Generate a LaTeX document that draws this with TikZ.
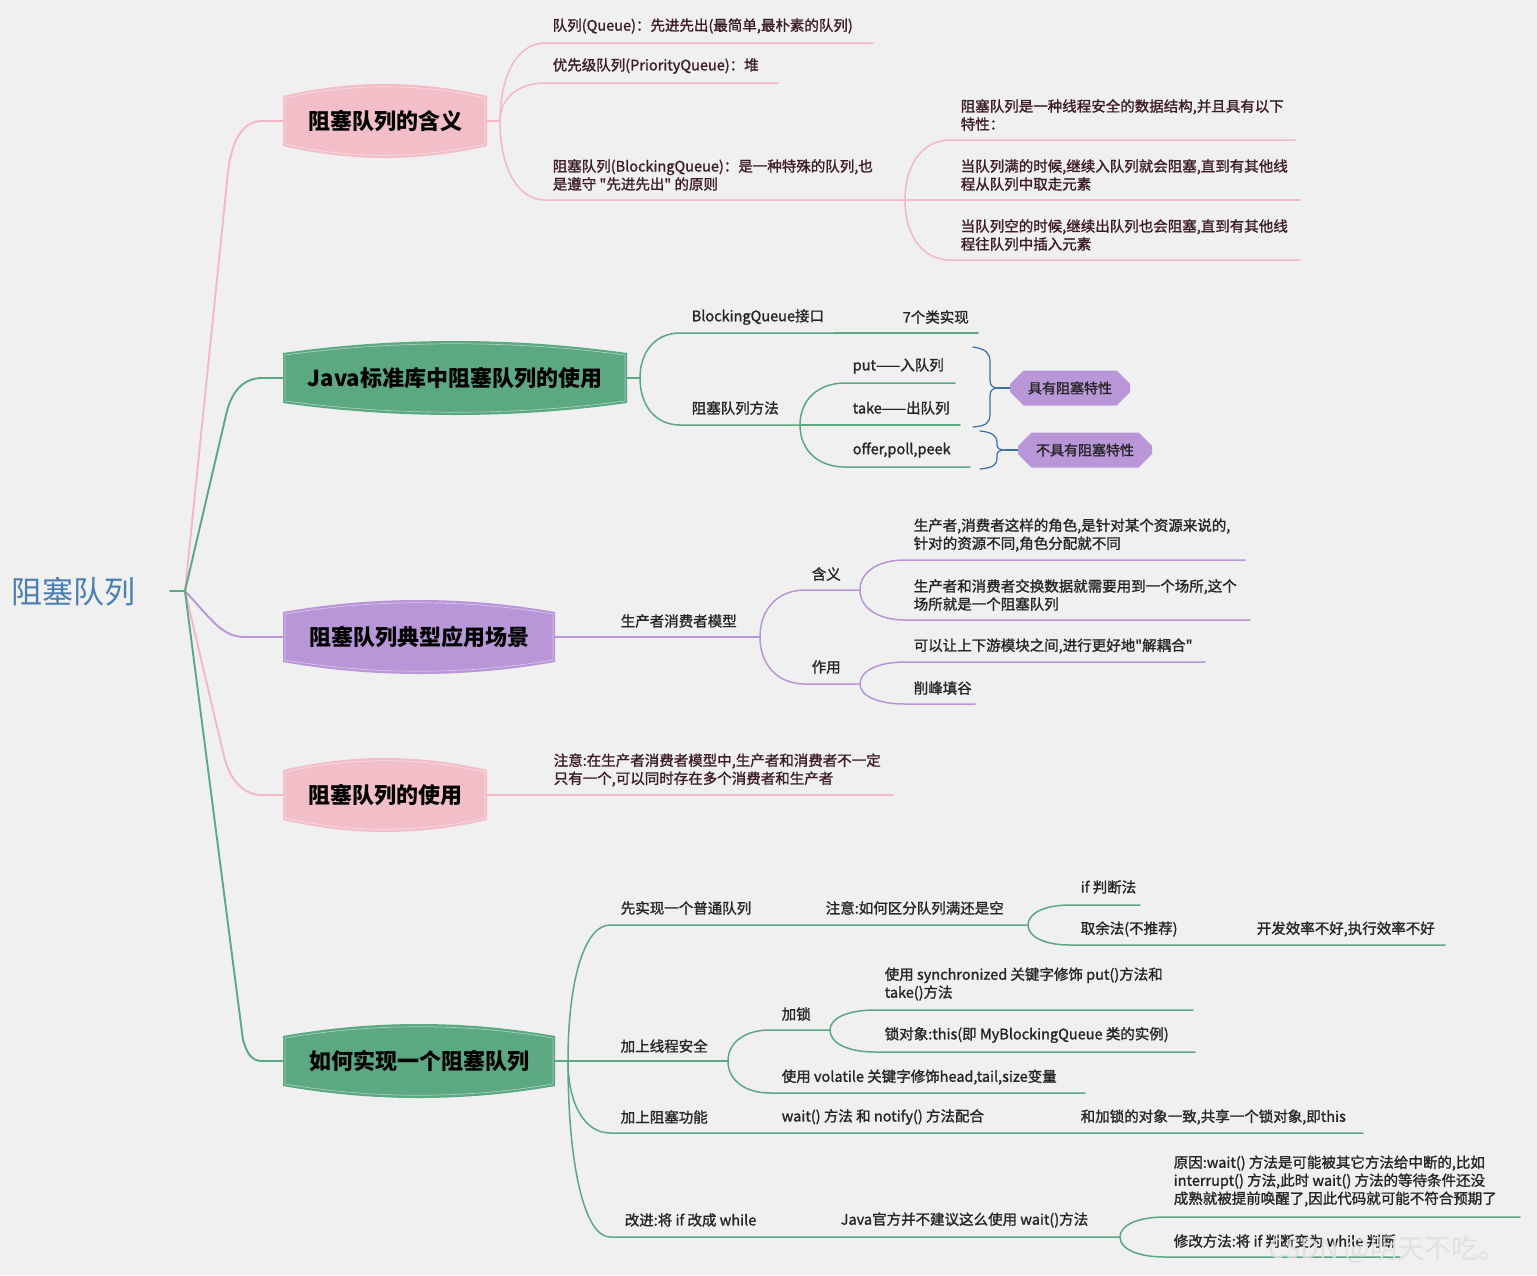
\documentclass[tikz,border=0pt]{standalone}
\usepackage{fontspec}
\newfontfamily\mainf{Noto Sans CJK SC}
\newfontfamily\txtf{Noto Sans CJK SC}[FakeBold=1.4]
\setmainfont{Noto Sans CJK SC}
\usetikzlibrary{calc,shapes.misc}
\definecolor{bg}{HTML}{F0F0F0}
\definecolor{pk}{HTML}{F2B9C5}
\definecolor{pkf}{HTML}{F2BEC8}
\definecolor{gr}{HTML}{5BA883}
\definecolor{pu}{HTML}{B896D8}
\definecolor{rootc}{HTML}{4A7DB0}
\definecolor{tcp}{HTML}{3E1E26}
\definecolor{tcg}{HTML}{262626}
\definecolor{brc}{HTML}{3C6FA8}
\definecolor{wmc}{HTML}{DEDEDE}
\tikzset{
 mm/.style={to path={.. controls ($(\tikztostart)!0.6!(\tikztostart|-\tikztotarget)$) and ($(\tikztostart|-\tikztotarget)!0.4!(\tikztotarget)$) .. (\tikztotarget)}},
 lk/.style={line width=1.5pt, line cap=round, line join=round},
 mainl/.style={line width=1.9pt, line cap=round, line join=round},
 tx/.style={anchor=west, inner sep=0pt, align=left, font=\txtf\fontsize{14.5}{18}\selectfont},
 boxtext/.style={font=\mainf\fontsize{22}{24}\selectfont\bfseries, text=black, inner sep=0pt},
 call/.style={chamfered rectangle, chamfered rectangle xsep=7pt, chamfered rectangle ysep=7pt, fill=pu, text=black!85, font=\txtf\fontsize{14}{16}\selectfont, minimum height=35pt, inner sep=0pt},
}
\newcommand\mybox[6]{%
 \fill[#5] ({#2-#4},{#3-25}) .. controls ({#2-#4/3},{#3-41}) and ({#2+#4/3},{#3-41}) .. ({#2+#4},{#3-25}) -- ({#2+#4},{#3+25}) .. controls ({#2+#4/3},{#3+41}) and ({#2-#4/3},{#3+41}) .. ({#2-#4},{#3+25}) -- cycle;
 \draw[white, opacity=0.45, line width=0.7pt] ({#2-#4+2},{#3-23}) .. controls ({#2-#4/3},{#3-38}) and ({#2+#4/3},{#3-38}) .. ({#2+#4-2},{#3-23}) -- ({#2+#4-2},{#3+23}) .. controls ({#2+#4/3},{#3+38}) and ({#2-#4/3},{#3+38}) .. ({#2-#4+2},{#3+23}) -- cycle;
 \node[boxtext, minimum width={2*#4pt}, minimum height=50pt] (#1) at (#2,#3) {#6};}
\newcommand\leaf[7]{%
 \coordinate (#1s) at (#4,#6); \coordinate (#1e) at (#5,#6);
 \node[tx] (#1) at (#2,#3) {#7};}
\begin{document}
\begin{tikzpicture}[x=1pt,y=-1pt]
\fill[bg] (0,0) rectangle (1537,1275);
\useasboundingbox (0,0) rectangle (1537,1275);

% root
\node[font=\mainf\fontsize{31}{33}\selectfont, text=rootc, anchor=west, inner sep=0pt] (root) at (11,592) {阻塞队列};
\coordinate (r0) at (170,591);
\coordinate (T) at (185,591);

\path (283,121) coordinate (b1w) (283,378) coordinate (b2w) (283,637) coordinate (b3w) (283,795) coordinate (b4w) (283,1061) coordinate (b5w);
\draw[pk,mainl] (T) -- (228,172) .. controls (232,138) and (244,121) .. (262,121) -- (b1w);
\draw[pk,mainl] (T) -- (223,752) .. controls (229,780) and (243,795) .. (262,795) -- (b4w);
\draw[pu,mainl] (T) .. controls (212,620) and (222,637) .. (245,637) -- (b3w);
\draw[gr,mainl] (T) -- (226,415) .. controls (231,392) and (243,378) .. (262,378) -- (b2w);
\draw[gr,mainl] (T) -- (243,1040) .. controls (247,1053) and (251,1061) .. (262,1061) -- (b5w);
\draw[gr,mainl] (r0) -- (T);

\mybox{b1}{385}{121}{102}{pkf}{阻塞队列的含义}
\mybox{b2}{455}{378}{172}{gr}{Java标准库中阻塞队列的使用}
\mybox{b3}{419}{637}{136}{pu}{阻塞队列典型应用场景}
\mybox{b4}{385}{795}{102}{pkf}{阻塞队列的使用}
\mybox{b5}{419}{1061}{136}{gr}{如何实现一个阻塞队列}

% ---------- branch 1 ----------
\begin{scope}[tx/.append style={text=tcp}, every path/.style={pk,lk}]
\coordinate (F1) at (500,121);
\draw (b1.east) -- (F1);
\leaf{n11}{552}{26}{545}{873}{43}{队列(Queue)：先进先出(最简单,最朴素的队列)}
\leaf{n12}{552}{66}{545}{778}{83}{优先级队列(PriorityQueue)：堆}
\leaf{n13}{552}{175}{545}{905}{200}{阻塞队列(BlockingQueue)：是一种特殊的队列,也\\是遵守 "先进先出" 的原则}
\draw (F1) to[mm] (n11s) -- (n11e);
\draw (F1) to[mm] (n12s) -- (n12e);
\draw (F1) to[mm] (n13s) -- (n13e);
\leaf{n131}{960}{115}{950}{1295}{140}{阻塞队列是一种线程安全的数据结构,并且具有以下\\特性：}
\leaf{n132}{960}{175}{950}{1300}{200}{当队列满的时候,继续入队列就会阻塞,直到有其他线\\程从队列中取走元素}
\leaf{n133}{960}{235}{950}{1300}{260}{当队列空的时候,继续出队列也会阻塞,直到有其他线\\程往队列中插入元素}
\draw (n13e) to[mm] (n131s) -- (n131e);
\draw (n13e) -- (n132s) -- (n132e);
\draw (n13e) to[mm] (n133s) -- (n133e);
\end{scope}

% ---------- branch 2 ----------
\begin{scope}[tx/.append style={text=tcg}, every path/.style={gr,lk}]
\coordinate (F2) at (640,378);
\draw (b2.east) -- (F2);
\leaf{n21}{691}{317}{680}{835}{333}{BlockingQueue接口}
\leaf{n22}{902}{317}{835}{978}{333}{7个类实现}
\leaf{n23}{691}{408}{680}{800}{425}{阻塞队列方法}
\draw (F2) to[mm] (n21s) -- (n21e);
\draw (n21e) -- (n22e);
\draw (F2) to[mm] (n23s) -- (n23e);
\leaf{n231}{852}{366}{845}{955}{383}{put——入队列}
\leaf{n232}{852}{408}{845}{960}{425}{take——出队列}
\leaf{n233}{852}{450}{845}{970}{467}{offer,poll,peek}
\draw (n23e) to[mm] (n231s) -- (n231e);
\draw (n23e) -- (n232s) -- (n232e);
\draw (n23e) to[mm] (n233s) -- (n233e);
\end{scope}
\node[call, minimum width=120pt] (c1) at (1070,388) {具有阻塞特性};
\node[call, minimum width=134pt] (c2) at (1085,450) {不具有阻塞特性};
\begin{scope}[every path/.style={brc,line width=1.2pt,line cap=round}]
\coordinate (br1) at (998,388);
\draw (973,347) .. controls (986,349) and (990,353) .. (990,362) -- (990,380) .. controls (990,385) and (992,388) .. (br1) .. controls (992,388) and (990,391) .. (990,396) -- (990,414) .. controls (990,423) and (986,426) .. (973,427);
\draw (br1) -- (c1.west);
\coordinate (br2) at (1005,450);
\draw (980,431) .. controls (992,432) and (997,436) .. (997,442) -- (997,445) .. controls (997,448) and (999,450) .. (br2) .. controls (999,450) and (997,452) .. (997,455) -- (997,459) .. controls (997,465) and (992,468) .. (980,469);
\draw (br2) -- (c2.west);
\end{scope}

% ---------- branch 3 ----------
\begin{scope}[tx/.append style={text=tcg}, every path/.style={pu,lk}]
\leaf{n31}{620}{621}{610}{760}{637}{生产者消费者模型}
\draw (b3.east) -- (n31s) -- (n31e);
\leaf{n32}{811}{574}{805}{860}{590}{含义}
\leaf{n33}{811}{667}{805}{860}{684}{作用}
\draw (n31e) to[mm] (n32s) -- (n32e);
\draw (n31e) to[mm] (n33s) -- (n33e);
\leaf{n321}{913}{535}{905}{1245}{560}{生产者,消费者这样的角色,是针对某个资源来说的,\\针对的资源不同,角色分配就不同}
\leaf{n322}{913}{595}{905}{1250}{620}{生产者和消费者交换数据就需要用到一个场所,这个\\场所就是一个阻塞队列}
\leaf{n331}{913}{646}{905}{1205}{662}{可以让上下游模块之间,进行更好地"解耦合"}
\leaf{n332}{913}{688}{905}{975}{704}{削峰填谷}
\draw (n32e) to[mm] (n321s) -- (n321e);
\draw (n32e) to[mm] (n322s) -- (n322e);
\draw (n33e) to[mm] (n331s) -- (n331e);
\draw (n33e) to[mm] (n332s) -- (n332e);
\end{scope}

% ---------- branch 4 ----------
\begin{scope}[tx/.append style={text=tcp}, every path/.style={pk,lk}]
\leaf{n41}{553}{770}{545}{893}{795}{注意:在生产者消费者模型中,生产者和消费者不一定\\只有一个,可以同时存在多个消费者和生产者}
\draw (b4.east) -- (n41s) -- (n41e);
\end{scope}

% ---------- branch 5 ----------
\begin{scope}[tx/.append style={text=tcg}, every path/.style={gr,lk}]
\coordinate (F5) at (568,1061);
\draw (b5.east) -- (F5);
\leaf{n51}{620}{908}{610}{815}{925}{先实现一个普通队列}
\leaf{n52}{825}{908}{815}{1028}{925}{注意:如何区分队列满还是空}
\leaf{n521}{1080}{887}{1070}{1140}{905}{if 判断法}
\leaf{n522}{1080}{929}{1070}{1240}{945}{取余法(不推荐)}
\leaf{n523}{1256}{929}{1240}{1445}{945}{开发效率不好,执行效率不好}
\draw (F5) to[mm] (n51s) -- (n51e) -- (n52e);
\draw (n52e) to[mm] (n521s) -- (n521e);
\draw (n52e) to[mm] (n522s) -- (n522e) -- (n523e);
\leaf{n53}{620}{1046}{610}{728}{1061}{加上线程安全}
\leaf{n531}{781}{1014}{770}{830}{1030}{加锁}
\leaf{n5311}{884}{984}{875}{1193}{1010}{使用 synchronized 关键字修饰 put()方法和\\take()方法}
\leaf{n5312}{884}{1035}{875}{1195}{1052}{锁对象:this(即 MyBlockingQueue 类的实例)}
\leaf{n532}{781}{1077}{770}{1085}{1093}{使用 volatile 关键字修饰head,tail,size变量}
\draw (F5) -- (n53s) -- (n53e);
\draw (n53e) to[mm] (n531s) -- (n531e);
\draw (n531e) to[mm] (n5311s) -- (n5311e);
\draw (n531e) to[mm] (n5312s) -- (n5312e);
\draw (n53e) to[mm] (n532s) -- (n532e);
\leaf{n54}{620}{1117}{610}{770}{1133}{加上阻塞功能}
\leaf{n55}{781}{1117}{770}{1072}{1133}{wait() 方法 和 notify() 方法配合}
\leaf{n56}{1080}{1117}{1072}{1363}{1133}{和加锁的对象一致,共享一个锁对象,即this}
\draw (F5) to[mm] (n54s) -- (n54e) -- (n55e) -- (n56e);
\leaf{n57}{624}{1220}{610}{830}{1237}{改进:将 if 改成 while}
\leaf{n58}{840}{1220}{830}{1120}{1237}{Java官方并不建议这么使用 wait()方法}
\leaf{n581}{1173}{1181}{1165}{1520}{1217}{原因:wait() 方法是可能被其它方法给中断的,比如\\interrupt() 方法,此时 wait() 方法的等待条件还没\\成熟就被提前唤醒了,因此代码就可能不符合预期了}
\leaf{n582}{1173}{1241}{1165}{1400}{1257}{修改方法:将 if 判断变为 while 判断}
\draw (F5) to[mm] (n57s) -- (n57e) -- (n58e);
\draw (n58e) to[mm] (n581s) -- (n581e);
\draw (n58e) to[mm] (n582s) -- (n582e);
\end{scope}

% watermark
\node[font=\mainf\fontsize{27}{30}\selectfont, text=wmc, anchor=west, inner sep=0pt, opacity=0.85] (wm) at (1268,1249) {CSDN @明天不吃。};
\end{tikzpicture}
\end{document}
